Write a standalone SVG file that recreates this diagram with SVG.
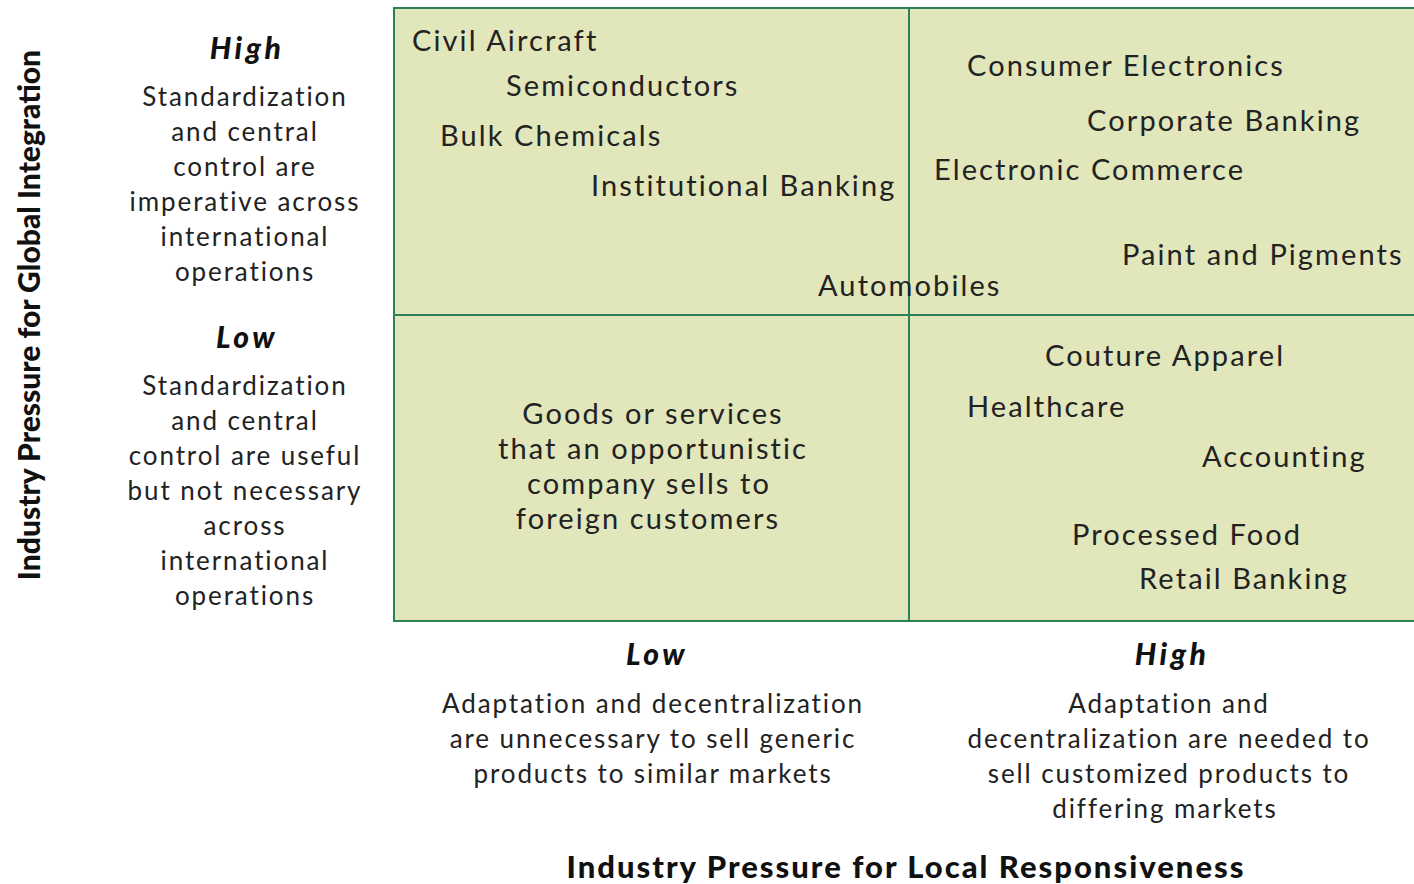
<svg xmlns="http://www.w3.org/2000/svg" width="1414" height="884" viewBox="0 0 1414 884">
  <style>
    .cell { fill: #e1e6bb; stroke: none; }
    .grid { stroke: #2d8156; stroke-width: 2; fill: none; }
    .item { font-family: Lato, "Open Sans", sans-serif; font-size: 29px; fill: #222; letter-spacing: 2.1px; }
    .note { font-family: Lato, "Open Sans", sans-serif; font-size: 26px; fill: #222; text-anchor: middle; letter-spacing: 1.9px; }
    .level { font-family: Lato, "Open Sans", sans-serif; font-size: 30px; font-weight: 900; font-style: italic; fill: #111; text-anchor: middle; letter-spacing: 3.5px; }
    .axis { font-family: Lato, "Open Sans", sans-serif; font-size: 31px; font-weight: 900; fill: #111; text-anchor: middle; }
  </style>

  <rect width="1414" height="884" fill="#ffffff"/>

  <!-- quadrant background and dividing lines -->
  <g id="matrix">
    <rect class="cell" x="394" y="8" width="1022" height="613"/>
    <rect class="grid" x="394" y="8" width="1022" height="613"/>
  </g>
  <g id="connectors">
    <line class="grid" x1="909" y1="8" x2="909" y2="621"/>
    <line class="grid" x1="394" y1="315" x2="1416" y2="315"/>
  </g>

  <!-- upper-left quadrant: global strategy industries -->
  <g id="q-global">
    <text class="item" x="412" y="51">Civil Aircraft</text>
    <text class="item" x="506" y="96">Semiconductors</text>
    <text class="item" x="440" y="146">Bulk Chemicals</text>
    <text class="item" x="591" y="196">Institutional Banking</text>
    <text class="item" x="818" y="296">Automobiles</text>
  </g>

  <!-- upper-right quadrant: transnational strategy industries -->
  <g id="q-transnational">
    <text class="item" x="967" y="76">Consumer Electronics</text>
    <text class="item" x="1087" y="131">Corporate Banking</text>
    <text class="item" x="934" y="180">Electronic Commerce</text>
    <text class="item" x="1122" y="265">Paint and Pigments</text>
  </g>

  <!-- lower-right quadrant: multidomestic strategy industries -->
  <g id="q-multidomestic">
    <text class="item" x="1045" y="366">Couture Apparel</text>
    <text class="item" x="967" y="417">Healthcare</text>
    <text class="item" x="1202" y="467">Accounting</text>
    <text class="item" x="1072" y="545">Processed Food</text>
    <text class="item" x="1139" y="589">Retail Banking</text>
  </g>

  <!-- lower-left quadrant: international strategy -->
  <g id="q-international">
    <text class="item" text-anchor="middle" x="653" y="424">Goods or services</text>
    <text class="item" text-anchor="middle" x="653" y="459">that an opportunistic</text>
    <text class="item" text-anchor="middle" x="649" y="494">company sells to</text>
    <text class="item" text-anchor="middle" x="648" y="529">foreign customers</text>
  </g>

  <!-- vertical axis descriptions -->
  <g id="y-high">
    <text class="level" x="247" y="59">High</text>
    <text class="note" x="245" y="106">Standardization</text>
    <text class="note" x="245" y="141">and central</text>
    <text class="note" x="245" y="176">control are</text>
    <text class="note" x="245" y="211">imperative across</text>
    <text class="note" x="245" y="246">international</text>
    <text class="note" x="245" y="281">operations</text>
  </g>
  <g id="y-low">
    <text class="level" x="247" y="348">Low</text>
    <text class="note" x="245" y="395">Standardization</text>
    <text class="note" x="245" y="430">and central</text>
    <text class="note" x="245" y="465">control are useful</text>
    <text class="note" x="245" y="500">but not necessary</text>
    <text class="note" x="245" y="535">across</text>
    <text class="note" x="245" y="570">international</text>
    <text class="note" x="245" y="605">operations</text>
  </g>
  <g id="y-axis">
    <text class="axis" style="font-size:30px" transform="translate(40,315) rotate(-90)">Industry Pressure for Global Integration</text>
  </g>

  <!-- horizontal axis descriptions -->
  <g id="x-low">
    <text class="level" x="657" y="665">Low</text>
    <text class="note" x="653" y="713">Adaptation and decentralization</text>
    <text class="note" x="653" y="748">are unnecessary to sell generic</text>
    <text class="note" x="653" y="783">products to similar markets</text>
  </g>
  <g id="x-high">
    <text class="level" x="1172" y="665">High</text>
    <text class="note" x="1169" y="713">Adaptation and</text>
    <text class="note" x="1169" y="748">decentralization are needed to</text>
    <text class="note" x="1169" y="783">sell customized products to</text>
    <text class="note" x="1165" y="818">differing markets</text>
  </g>
  <g id="x-axis">
    <text class="axis" x="906" y="878" style="letter-spacing:2px">Industry Pressure for Local Responsiveness</text>
  </g>
</svg>
